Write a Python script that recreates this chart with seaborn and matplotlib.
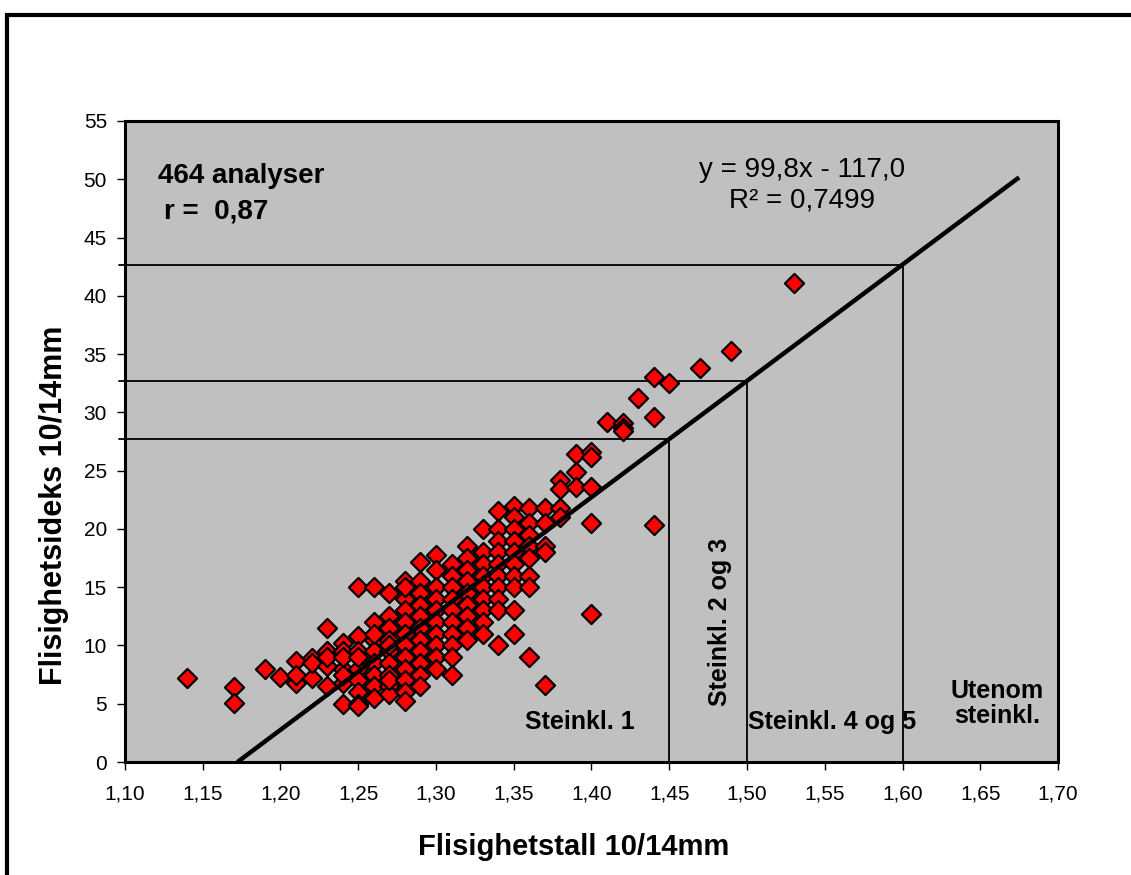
import matplotlib
matplotlib.use("Agg")
import matplotlib.pyplot as plt
import seaborn as sns
import pandas as pd
import numpy as np
from matplotlib.patches import Rectangle
from matplotlib.ticker import FuncFormatter

# ---- data (x: Flisighetstall, y: Flisighetsideks) ----
col_114 = [7.2]
col_117 = [6.4, 5.1]
col_119 = [8.0]
col_120 = [7.3]
col_121 = [8.7, 6.8, 7.5]
col_122 = [8.9, 7.2, 8.5]
col_123 = [11.5, 9.5, 8.2, 9.0, 6.5]
col_124 = [10.2, 9.5, 8.0, 6.8, 5.0, 7.5, 9.0]
col_125 = [15.0, 10.8, 9.5, 8.0, 7.0, 6.0, 5.0, 4.8, 9.0]
col_126 = [15.0, 12.0, 10.5, 9.5, 8.5, 7.5, 6.5, 5.5, 11.0]
col_127 = [14.5, 12.5, 11.5, 10.5, 9.5, 8.5, 7.5, 6.5, 5.8, 7.0, 10.0]
col_128 = [15.5, 14.0, 13.0, 12.0, 11.0, 10.0, 9.0, 8.0, 7.0, 6.0, 5.2, 15.0]
col_129 = [17.2, 15.5, 14.5, 13.5, 12.5, 11.5, 10.5, 9.5, 8.5, 7.5, 6.5]
col_130 = [17.8, 16.5, 15.0, 14.0, 13.0, 12.0, 11.0, 10.0, 9.0, 8.0]
col_131 = [17.0, 16.0, 15.0, 14.0, 13.0, 12.0, 11.0, 10.0, 9.0, 7.5]
col_132 = [18.5, 17.5, 16.5, 15.5, 14.5, 13.5, 12.5, 11.5, 10.5]
col_133 = [20.0, 18.0, 17.0, 16.0, 15.0, 14.0, 13.0, 12.0, 11.0]
col_134 = [21.5, 20.0, 19.0, 18.0, 17.0, 16.0, 15.0, 14.0, 13.0, 10.0]
col_135 = [22.0, 21.0, 20.0, 19.0, 18.0, 17.0, 16.0, 15.0, 13.0, 11.0]
col_136 = [21.8, 20.5, 19.5, 18.5, 17.5, 16.0, 15.0, 9.0]
col_137 = [21.8, 20.5, 18.5, 18.0, 6.6]
col_138 = [24.2, 23.4, 21.8, 21.0]
col_139 = [26.4, 24.9, 23.6]
col_140 = [26.6, 26.2, 23.6, 20.5, 12.7]
col_141 = [29.2]
col_142 = [29.1, 28.7, 28.4]
col_143 = [31.2]
col_144 = [33.0, 29.6, 20.3]
col_145 = [32.5]
col_147 = [33.8]
col_149 = [35.3]
col_153 = [41.1]

columns = {
    1.14: col_114, 1.17: col_117, 1.19: col_119, 1.20: col_120, 1.21: col_121,
    1.22: col_122, 1.23: col_123, 1.24: col_124, 1.25: col_125, 1.26: col_126,
    1.27: col_127, 1.28: col_128, 1.29: col_129, 1.30: col_130, 1.31: col_131,
    1.32: col_132, 1.33: col_133, 1.34: col_134, 1.35: col_135, 1.36: col_136,
    1.37: col_137, 1.38: col_138, 1.39: col_139, 1.40: col_140, 1.41: col_141,
    1.42: col_142, 1.43: col_143, 1.44: col_144, 1.45: col_145, 1.47: col_147,
    1.49: col_149, 1.53: col_153,
}

# regression shown in the chart
slope = 99.8
intercept = -117.0
fit_x_range = [1.1723, 1.675]

# class limits (Flisighetstall) -> guide lines
class_limits = [1.45, 1.50, 1.60]

x_ticks = [1.10, 1.15, 1.20, 1.25, 1.30, 1.35, 1.40, 1.45, 1.50, 1.55, 1.60, 1.65, 1.70]
y_ticks = [0, 5, 10, 15, 20, 25, 30, 35, 40, 45, 50, 55]

rows = [(x, y) for x, ys in columns.items() for y in ys]
df = pd.DataFrame(rows, columns=["Flisighetstall", "Flisighetsideks"])

# ---- figure ----
sns.set_theme(style="white")
plt.rcParams["font.family"] = ["Liberation Sans", "DejaVu Sans"]
plt.rcParams["text.color"] = "black"
plt.rcParams["axes.labelcolor"] = "black"

fig = plt.figure(figsize=(11.31, 8.75), dpi=100)
ax = fig.add_axes([125 / 1131, 1 - 762 / 875, (1058 - 125) / 1131, (762 - 121) / 875])
ax.set_facecolor("#C0C0C0")

ax.set_xlim(1.10, 1.70)
ax.set_ylim(0, 55)

# guide lines
for cx in class_limits:
    cy = slope * cx + intercept
    ax.plot([1.096, cx], [cy, cy], color="black", lw=1.3, clip_on=False, zorder=2)
    ax.plot([cx, cx], [0, cy], color="black", lw=1.3, zorder=2)

sns.scatterplot(data=df, x="Flisighetstall", y="Flisighetsideks", ax=ax,
                marker="D", s=95, color="#FF0000", edgecolor="black",
                linewidth=1.6, zorder=3, legend=False)

fx = np.array(fit_x_range)
ax.plot(fx, slope * fx + intercept, color="black", lw=3.2, zorder=4,
        solid_capstyle="butt")

# axes styling
for sp in ax.spines.values():
    sp.set_visible(True)
    sp.set_color("black")
    sp.set_linewidth(2.2)
ax.set_xticks(x_ticks)
ax.set_yticks(y_ticks)
ax.xaxis.set_major_formatter(FuncFormatter(lambda v, p: f"{v:.2f}".replace(".", ",")))
ax.tick_params(axis="both", direction="out", length=6, width=1, color="black",
               labelsize=15, labelcolor="black", bottom=True, left=True)
ax.tick_params(axis="x", pad=10)
ax.tick_params(axis="y", pad=7)
ax.grid(False)

ax.set_xlabel("Flisighetstall 10/14mm", fontsize=21, fontweight="bold")
ax.set_ylabel("Flisighetsideks 10/14mm", fontsize=22, fontweight="bold")
ax.xaxis.set_label_coords(0.481, -0.111)
ax.yaxis.set_label_coords(-0.060, 0.40)

# annotations
ax.text(1.121, 50.3, "464 analyser", fontsize=20, fontweight="bold", ha="left", va="center")
ax.text(1.125, 47.2, "r =  0,87", fontsize=20, fontweight="bold", ha="left", va="center")
ax.text(1.5354, 50.8, "y = 99,8x - 117,0", fontsize=20, ha="center", va="center")
ax.text(1.5354, 48.2, "R² = 0,7499", fontsize=20, ha="center", va="center")
ax.text(1.3926, 3.4, "Steinkl. 1", fontsize=18, fontweight="bold", ha="center", va="center")
ax.text(1.4826, 12.0, "Steinkl. 2 og 3", fontsize=18, fontweight="bold", ha="center",
        va="center", rotation=90)
ax.text(1.5547, 3.4, "Steinkl. 4 og 5", fontsize=18, fontweight="bold", ha="center", va="center")
ax.text(1.6608, 5.0, "Utenom\nsteinkl.", fontsize=18, fontweight="bold", ha="center",
        va="center", linespacing=1.05)

# outer frame
fig.patches.append(Rectangle((7 / 1131, -0.2), 1.2, 0.2 + 1 - 15 / 875, transform=fig.transFigure,
                             fill=False, edgecolor="black", lw=3, clip_on=False))

fig.savefig("out.png", dpi=100)
